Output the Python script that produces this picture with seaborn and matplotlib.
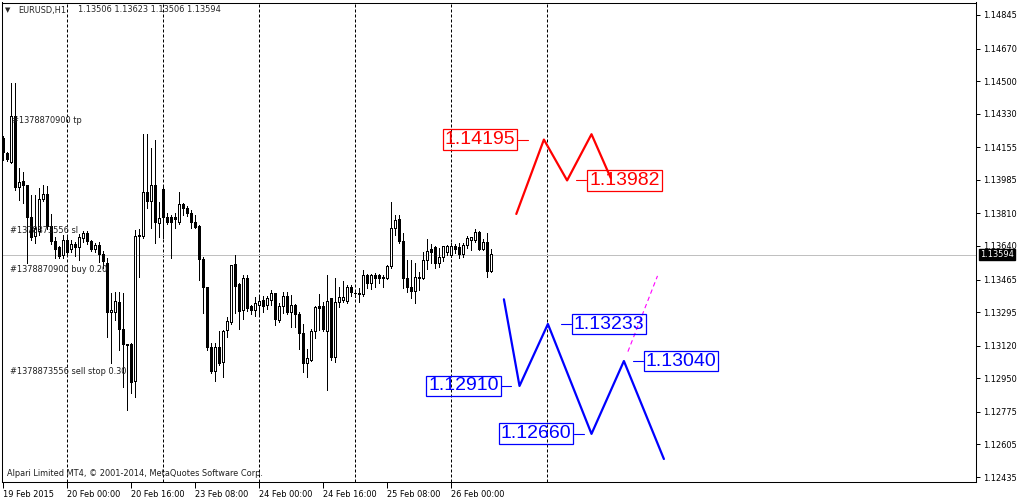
import numpy as np
import pandas as pd
import matplotlib
matplotlib.use("Agg")
import matplotlib.pyplot as plt
import matplotlib.transforms as mtransforms
from matplotlib.font_manager import FontProperties
import seaborn as sns

# ---------------- data (EURUSD H1) ----------------
opens = [
    1.14203, 1.14125, 1.14078, 1.14313, 1.13943, 1.13974, 1.13953, 1.13791, 1.13687, 1.13713,
    1.13885, 1.13911, 1.13744, 1.13666, 1.13630, 1.13588, 1.13671, 1.13624, 1.13650, 1.13630,
    1.13677, 1.13703, 1.13661, 1.13624, 1.13640, 1.13593, 1.13551, 1.13291, 1.13291, 1.13343,
    1.13202, 1.13124, 1.13124, 1.12931, 1.13692, 1.13692, 1.13917, 1.13870, 1.13958, 1.13755,
    1.13937, 1.13791, 1.13786, 1.13791, 1.13765, 1.13854, 1.13838, 1.13812, 1.13760, 1.13744,
    1.13567, 1.13421, 1.13113, 1.12983, 1.13113, 1.13030, 1.13197, 1.13239, 1.13541, 1.13437,
    1.13301, 1.13468, 1.13322, 1.13306, 1.13332, 1.13358, 1.13327, 1.13358, 1.13390, 1.13249,
    1.13322, 1.13379, 1.13291, 1.13327, 1.13285, 1.13181, 1.13025, 1.13045, 1.13192, 1.13322,
    1.13322, 1.13192, 1.13364, 1.13056, 1.13343, 1.13358, 1.13353, 1.13421, 1.13390, 1.13385,
    1.13385, 1.13484, 1.13442, 1.13484, 1.13484, 1.13468, 1.13473, 1.13531, 1.13729, 1.13776,
    1.13666, 1.13473, 1.13426, 1.13405, 1.13468, 1.13473, 1.13562, 1.13624, 1.13630, 1.13551,
    1.13578, 1.13604, 1.13588, 1.13635, 1.13630, 1.13593, 1.13640, 1.13671, 1.13671, 1.13708,
    1.13624, 1.13656, 1.13506]
highs = [
    1.14214, 1.14130, 1.14490, 1.14490, 1.14047, 1.14026, 1.13953, 1.13906, 1.13906, 1.13943,
    1.13958, 1.13953, 1.13807, 1.13687, 1.13640, 1.13697, 1.13687, 1.13671, 1.13661, 1.13703,
    1.13718, 1.13718, 1.13671, 1.13656, 1.13661, 1.13614, 1.13578, 1.13395, 1.13400, 1.13400,
    1.13395, 1.13129, 1.13134, 1.13723, 1.13729, 1.14224, 1.14224, 1.14151, 1.14193, 1.13870,
    1.13958, 1.13812, 1.13802, 1.13812, 1.13922, 1.13864, 1.13849, 1.13828, 1.13802, 1.13750,
    1.13583, 1.13426, 1.13134, 1.13134, 1.13197, 1.13202, 1.13270, 1.13541, 1.13593, 1.13447,
    1.13489, 1.13489, 1.13332, 1.13374, 1.13374, 1.13379, 1.13379, 1.13411, 1.13395, 1.13343,
    1.13400, 1.13400, 1.13385, 1.13338, 1.13296, 1.13233, 1.13103, 1.13207, 1.13327, 1.13390,
    1.13348, 1.13489, 1.13364, 1.13473, 1.13426, 1.13457, 1.13437, 1.13437, 1.13405, 1.13421,
    1.13515, 1.13494, 1.13494, 1.13499, 1.13494, 1.13489, 1.13541, 1.13870, 1.13802, 1.13802,
    1.13708, 1.13567, 1.13567, 1.13551, 1.13505, 1.13609, 1.13677, 1.13650, 1.13640, 1.13630,
    1.13640, 1.13645, 1.13656, 1.13650, 1.13656, 1.13656, 1.13692, 1.13687, 1.13729, 1.13718,
    1.13677, 1.13708, 1.13623]
lows = [
    1.14089, 1.14083, 1.14073, 1.13932, 1.13880, 1.13864, 1.13551, 1.13671, 1.13656, 1.13697,
    1.13875, 1.13729, 1.13650, 1.13578, 1.13578, 1.13578, 1.13593, 1.13609, 1.13588, 1.13567,
    1.13661, 1.13650, 1.13614, 1.13609, 1.13557, 1.13525, 1.13165, 1.13030, 1.13254, 1.13098,
    1.12905, 1.12785, 1.12873, 1.12852, 1.13478, 1.13682, 1.13838, 1.13734, 1.13656, 1.13687,
    1.13682, 1.13755, 1.13578, 1.13734, 1.13755, 1.13802, 1.13797, 1.13734, 1.13734, 1.13463,
    1.13291, 1.13098, 1.12978, 1.12936, 1.13019, 1.12957, 1.13165, 1.13233, 1.13291, 1.13207,
    1.13259, 1.13301, 1.13285, 1.13275, 1.13280, 1.13296, 1.13312, 1.13332, 1.13228, 1.13244,
    1.13291, 1.13285, 1.13218, 1.13218, 1.13103, 1.12983, 1.12957, 1.13040, 1.13160, 1.13202,
    1.13197, 1.12889, 1.13045, 1.13035, 1.13322, 1.13348, 1.13343, 1.13379, 1.13374, 1.13348,
    1.13379, 1.13421, 1.13416, 1.13426, 1.13447, 1.13426, 1.13468, 1.13525, 1.13697, 1.13656,
    1.13421, 1.13400, 1.13369, 1.13343, 1.13411, 1.13468, 1.13520, 1.13551, 1.13525, 1.13531,
    1.13562, 1.13593, 1.13583, 1.13604, 1.13578, 1.13583, 1.13630, 1.13619, 1.13661, 1.13619,
    1.13619, 1.13478, 1.13506]
closes = [
    1.14130, 1.14089, 1.14313, 1.13943, 1.13969, 1.13953, 1.13786, 1.13682, 1.13729, 1.13885,
    1.13911, 1.13744, 1.13661, 1.13624, 1.13583, 1.13671, 1.13604, 1.13650, 1.13630, 1.13682,
    1.13703, 1.13661, 1.13624, 1.13640, 1.13593, 1.13557, 1.13291, 1.13301, 1.13348, 1.13202,
    1.13124, 1.13119, 1.12926, 1.13687, 1.13697, 1.13917, 1.13870, 1.13958, 1.13760, 1.13781,
    1.13791, 1.13765, 1.13765, 1.13776, 1.13854, 1.13833, 1.13812, 1.13760, 1.13739, 1.13567,
    1.13421, 1.13113, 1.12983, 1.13113, 1.13025, 1.13192, 1.13244, 1.13536, 1.13431, 1.13296,
    1.13473, 1.13312, 1.13301, 1.13338, 1.13353, 1.13322, 1.13364, 1.13390, 1.13254, 1.13322,
    1.13379, 1.13291, 1.13327, 1.13285, 1.13181, 1.13025, 1.13051, 1.13192, 1.13317, 1.13312,
    1.13202, 1.13348, 1.13056, 1.13343, 1.13369, 1.13369, 1.13421, 1.13395, 1.13392, 1.13390,
    1.13484, 1.13442, 1.13484, 1.13473, 1.13468, 1.13478, 1.13531, 1.13729, 1.13771, 1.13666,
    1.13473, 1.13421, 1.13405, 1.13478, 1.13478, 1.13562, 1.13609, 1.13604, 1.13551, 1.13578,
    1.13635, 1.13635, 1.13635, 1.13624, 1.13593, 1.13640, 1.13677, 1.13682, 1.13708, 1.13624,
    1.13656, 1.13505, 1.13594]

x_tick_bars = [0, 16, 32, 48, 64, 80, 96, 112]
x_tick_labels = ["19 Feb 2015", "20 Feb 00:00", "20 Feb 16:00", "23 Feb 08:00",
                 "24 Feb 00:00", "24 Feb 16:00", "25 Feb 08:00", "26 Feb 00:00"]
day_separator_bars = [16, 40, 64, 88, 112, 136]
y_tick_values = [1.14845, 1.14670, 1.14500, 1.14330, 1.14155, 1.13985, 1.13810, 1.13640,
                 1.13465, 1.13295, 1.13120, 1.12950, 1.12775, 1.12605, 1.12435]

red_x = [128.2, 135.1, 140.9, 147.0, 151.8]
red_y = [1.13807, 1.14195, 1.13982, 1.14223, 1.13995]
blue_x = [125.1, 129.0, 136.1, 147.0, 155.1, 165.1]
blue_y = [1.13362, 1.12910, 1.13233, 1.12660, 1.13040, 1.12529]
magenta_x = [156.1, 163.5]
magenta_y = [1.13089, 1.13484]

order_labels = ["#1378870900 tp", "#1378873556 sl", "#1378870900 buy 0.20",
                "#1378873556 sell stop 0.30"]
order_prices = [1.14294, 1.13720, 1.13518, 1.12984]

symbol = "EURUSD,H1"
copyright_text = "Alpari Limited MT4, \u00a9 2001-2014, MetaQuotes Software Corp."

# ---------------- drawing ----------------
sns.set_style("white")
plt.rcParams["font.family"] = ["DejaVu Sans"]

W, H = 1020, 499
fig = plt.figure(figsize=(W / 100, H / 100), dpi=100)
fig.patch.set_facecolor("white")
ax = fig.add_axes([2 / W, 1 - 482 / H, (976 - 2) / W, (482 - 2.5) / H])
ax.set_facecolor("white")

small = FontProperties(family="DejaVu Sans", stretch="condensed", size=6.6)
big = FontProperties(family="Liberation Sans", size=14)

XMIN, XMAX = -0.375, 243.125
YMIN, YMAX = 1.12409, 1.14910
ax.set_xlim(XMIN, XMAX)
ax.set_ylim(YMIN, YMAX)
px_x = (XMAX - XMIN) / 974.0          # one pixel in bar units
px_y = (YMAX - YMIN) / 479.5          # one pixel in price units

df = pd.DataFrame({"open": opens, "high": highs, "low": lows, "close": closes})
df["bar"] = np.arange(len(df))
df["top"] = df[["open", "close"]].max(axis=1)
df["bot"] = df[["open", "close"]].min(axis=1)
bull = df[df["close"] > df["open"]]

# day separators and current price line
for b in day_separator_bars:
    ax.axvline(b, color="black", lw=0.72, ls=(0, (3, 2)), zorder=1)
last_price = closes[-1]
ax.axhline(last_price, color="#C0C0C0", lw=0.72, zorder=1.5)

# candles: wick, 3px black body, 1px white core for bullish bars
ax.vlines(df["bar"], df["low"], df["high"], color="black", lw=0.72,
          antialiased=False, zorder=3)
ax.bar(df["bar"], df["top"] - df["bot"] + px_y, bottom=df["bot"] - 0.5 * px_y,
       width=3 * px_x, color="black", linewidth=0, antialiased=False, zorder=4)
core_h = (bull["top"] - bull["bot"] - px_y).clip(lower=0)
ax.bar(bull["bar"], core_h, bottom=bull["bot"] + 0.5 * px_y, width=px_x,
       color="white", linewidth=0, antialiased=False, zorder=4.5)

# zigzag lines (seaborn)
sns.lineplot(x=red_x, y=red_y, ax=ax, color="#FF0000", lw=1.6, sort=False,
             estimator=None, zorder=5)
sns.lineplot(x=blue_x, y=blue_y, ax=ax, color="#0000FF", lw=1.6, sort=False,
             estimator=None, zorder=5)
sns.lineplot(x=magenta_x, y=magenta_y, ax=ax, color="#FF00FF", lw=0.8,
             sort=False, estimator=None, zorder=5)
ax.lines[-1].set_linestyle((0, (4, 3)))


def price_label(vx, vy, color, side, gap):
    txt = f"{vy:.5f}"
    if side == "left":
        edge = vx - gap
        ax.plot([edge, edge + 2.5], [vy, vy], color=color, lw=0.8, zorder=5)
        ax.text(edge - 0.7, vy, txt, ha="right", va="center", color=color,
                fontproperties=big, zorder=6,
                bbox=dict(boxstyle="square,pad=0.1", fc="none", ec=color, lw=0.9))
    else:
        edge = vx + gap
        ax.plot([edge - 2.5, edge], [vy, vy], color=color, lw=0.8, zorder=5)
        ax.text(edge + 0.7, vy, txt, ha="left", va="center", color=color,
                fontproperties=big, zorder=6,
                bbox=dict(boxstyle="square,pad=0.1", fc="none", ec=color, lw=0.9))


price_label(red_x[1], red_y[1], "#FF0000", "left", 6.4)
price_label(red_x[2], red_y[2], "#FF0000", "right", 4.85)
price_label(blue_x[1], blue_y[1], "#0000FF", "left", 4.5)
price_label(blue_x[2], blue_y[2], "#0000FF", "right", 5.8)
price_label(blue_x[3], blue_y[3], "#0000FF", "left", 4.4)
price_label(blue_x[4], blue_y[4], "#0000FF", "right", 4.7)

# order labels
for i, (lab, pr) in enumerate(zip(order_labels, order_prices)):
    ax.text(2.2 if i == 0 else 1.6, pr, lab, ha="left", va="center",
            color="#202020", fontproperties=small, zorder=7)

# axes
ax.yaxis.tick_right()
ax.set_yticks(y_tick_values)
ax.set_yticklabels([f"{v:.5f}" for v in y_tick_values])
ax.set_xticks(x_tick_bars)
ax.set_xticklabels(x_tick_labels)
ax.tick_params(axis="y", direction="out", length=3, width=0.72, pad=2,
               colors="black", left=False, right=True)
ax.tick_params(axis="x", direction="out", length=4, width=0.72, pad=1.5,
               colors="black", bottom=True)
for lab in ax.get_yticklabels():
    lab.set_fontproperties(small)
for lab in ax.get_xticklabels():
    lab.set_fontproperties(small)
    lab.set_ha("left")
for sp in ax.spines.values():
    sp.set_visible(True)
    sp.set_color("black")
    sp.set_linewidth(0.75)
ax.grid(False)
ax.set_xlabel("")
ax.set_ylabel("")

# current price tag on the right scale
trans = mtransforms.blended_transform_factory(ax.transAxes, ax.transData)
trans = mtransforms.offset_copy(trans, fig=fig, x=4, y=0, units="dots")
ax.text(1.0, last_price, f"{last_price:.5f}", transform=trans, ha="left",
        va="center", color="white", fontproperties=small, clip_on=False,
        zorder=8, bbox=dict(boxstyle="square,pad=0.12", fc="black", ec="black"))

# header and copyright
fig.text(5 / W, 1 - 10 / H, "\u25bc", fontsize=5, va="center", ha="left")
fig.text(18 / W, 1 - 10 / H, symbol, fontproperties=small, va="center", ha="left")
fig.text(78 / W, 1 - 10 / H,
         f"{opens[-1]:.5f} {highs[-1]:.5f} {lows[-1]:.5f} {closes[-1]:.5f}",
         fontproperties=small, va="center", ha="left")
fig.text(7 / W, 1 - 474 / H, copyright_text, fontproperties=small,
         va="center", ha="left", color="#202020")

fig.savefig("out.png", dpi=100, facecolor="white")
